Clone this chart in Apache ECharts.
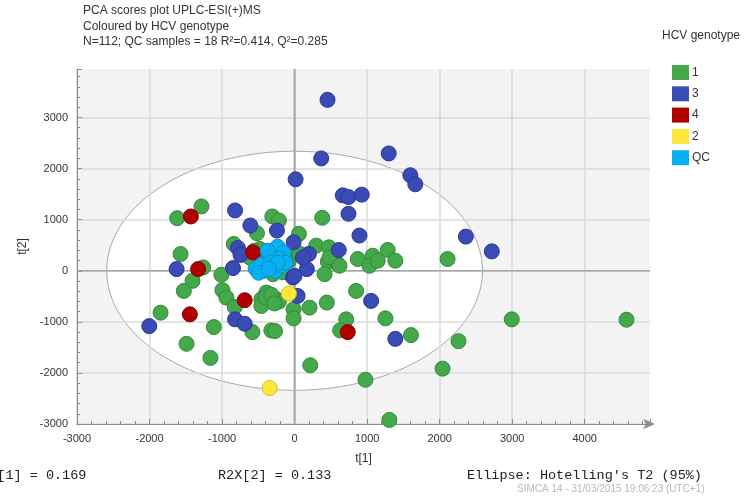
<!DOCTYPE html>
<html>
<head>
<meta charset="utf-8">
<script src="https://cdn.jsdelivr.net/npm/echarts@6/dist/echarts.min.js"></script>
<style>
html,body{margin:0;padding:0;background:#fff;}
#c{width:749px;height:497px;}
</style>
</head>
<body>
<div id="c"></div>
<script>
const categories = ['1', '3', '4', '2', 'QC'];
const colors = ['#45a84a', '#3a4bb5', '#b00000', '#ffe63a', '#08b0f2'];
const borders = ['#2f8a39', '#28379a', '#880000', '#d8bf1e', '#0690c8'];

const genotype1 = [[-1284,1260],[-1619,1030],[-307,1063],[-216,984],[381,1037],[-519,735],[59,722],[-1572,328],[-839,525],[298,492],[472,459],[-573,295],[-481,427],[458,177],[413,-66],[596,131],[23,328],[-78,197],[-1261,65],[-1009,-79],[-1407,-197],[-1527,-394],[-995,-380],[-940,-525],[-825,-709],[-1848,-820],[-458,-558],[-390,-427],[-252,-558],[-458,-689],[-14,-755],[-14,-932],[206,-722],[445,-623],[-1114,-1102],[-582,-1201],[-321,-1168],[-270,-1180],[-1490,-1430],[-1160,-1706],[216,-1850],[481,262],[619,98],[871,230],[1077,295],[1032,98],[1146,197],[1284,407],[1389,197],[2109,230],[848,-394],[711,-951],[628,-1168],[1252,-932],[1605,-1260],[2260,-1378],[2994,-951],[2040,-1916],[977,-2133],[1307,-2920],[4576,-958],[-114,197],[-298,-66],[-216,-604],[-619,262],[-400,-520],[-320,-470],[-560,390],[-160,-30],[69,335],[-280,-640]];
const genotype3 = [[454,3346],[367,2199],[14,1791],[1298,2297],[1596,1870],[1664,1693],[665,1476],[743,1443],[926,1490],[743,1116],[894,689],[2361,669],[2719,380],[609,407],[1055,-590],[1389,-1333],[-821,1181],[-610,886],[-243,787],[-14,557],[-781,445],[-745,310],[197,329],[-1627,33],[-849,53],[-23,-132],[169,33],[41,-492],[-2004,-1083],[-821,-951],[-688,-1037],[114,262],[0,-98]];
const genotype4 = [[-1430,1063],[-1330,33],[-1444,-853],[-688,-577],[-573,360],[733,-1201]];
const genotype2 = [[-78,-446],[-344,-2297]];
const qcSamples = [[-234,471],[-152,353],[-344,275],[-400,157],[-303,59],[-537,39],[-427,0],[-262,0],[-193,98],[-276,235],[-372,392],[-455,118],[-207,235],[-124,157],[-331,157],[-496,-39],[-234,157],[-358,39]];
const seriesData = [genotype1, genotype3, genotype4, genotype2, qcSamples];

const xTicks = {min: -3000, max: 4900, interval: 1000};
const yTicks = {min: -3000, max: 3950, interval: 1000};
const ellipseCenter = [0, 0];
const ellipseRadii = [2590, 2340];

const titleLines = ['PCA scores plot UPLC-ESI(+)MS', 'Coloured by HCV genotype', 'N=112; QC samples = 18 R\u00B2=0.414, Q\u00B2=0.285'];
const footTexts = ['R2X[1] = 0.169', 'R2X[2] = 0.133', "Ellipse: Hotelling's T2 (95%)"];
const stampText = 'SIMCA 14 - 31/03/2015 19:06:23 (UTC+1)';

const chart = echarts.init(document.getElementById('c'), null, {renderer: 'canvas'});

const scatterSeries = categories.map((name, i) => ({
  name: name,
  type: 'scatter',
  data: seriesData[i],
  symbol: 'circle',
  symbolSize: 15,
  z: 5 + i,
  itemStyle: {color: colors[i], borderColor: borders[i], borderWidth: 1, opacity: 1},
  emphasis: {disabled: true}
}));

const plainLabel = function (v) { return String(v); };

const option = {
  animation: false,
  backgroundColor: '#ffffff',
  textStyle: {fontFamily: 'Liberation Sans'},
  grid: {left: 77, top: 69, width: 573, height: 355, show: true, backgroundColor: '#f3f3f3', borderWidth: 0},
  xAxis: {
    type: 'value', min: xTicks.min, max: xTicks.max, interval: xTicks.interval, z: 3,
    name: 't[1]', nameLocation: 'middle', nameGap: 29,
    nameTextStyle: {color: '#333', fontSize: 12, fontFamily: 'Liberation Sans'},
    axisLine: {show: true, onZero: false, lineStyle: {color: '#8c8c8c', width: 1}, symbol: ['none', 'arrow'], symbolSize: [8, 12], symbolOffset: [0, 5]},
    axisTick: {show: true, inside: true, length: 5, lineStyle: {color: '#8c8c8c'}},
    minorTick: {show: true, splitNumber: 5, length: 3, lineStyle: {color: '#8c8c8c'}},
    axisLabel: {color: '#333', fontSize: 11, margin: 9, showMaxLabel: false, formatter: plainLabel, fontFamily: 'Liberation Sans'},
    splitLine: {show: true, showMaxLine: false, lineStyle: {color: '#dadada', width: 1.5}}
  },
  yAxis: {
    type: 'value', min: yTicks.min, max: yTicks.max, interval: yTicks.interval, z: 3,
    name: 't[2]', nameLocation: 'middle', nameGap: 37,
    nameTextStyle: {color: '#333', fontSize: 12, fontFamily: 'Liberation Sans'},
    axisLine: {show: true, onZero: false, lineStyle: {color: '#8c8c8c', width: 1}},
    axisTick: {show: true, inside: true, length: 5, lineStyle: {color: '#8c8c8c'}},
    minorTick: {show: true, splitNumber: 5, length: 3, lineStyle: {color: '#8c8c8c'}},
    axisLabel: {color: '#333', fontSize: 11, margin: 9, showMaxLabel: false, formatter: plainLabel, fontFamily: 'Liberation Sans'},
    splitLine: {show: true, showMaxLine: false, lineStyle: {color: '#dadada', width: 1.5}}
  },
  legend: {
    data: categories,
    orient: 'vertical', left: 667, top: 60,
    itemWidth: 17, itemHeight: 15, itemGap: 6.3,
    icon: 'rect',
    itemStyle: {borderWidth: 0},
    textStyle: {color: '#333', fontSize: 12, fontFamily: 'Liberation Sans', padding: [0, 0, 0, -2]},
    selectedMode: false
  },
  graphic: [
    {type: 'text', left: 83, top: 5, style: {text: titleLines[0], fill: '#333', font: '12px "Liberation Sans"'}},
    {type: 'text', left: 83, top: 21, style: {text: titleLines[1], fill: '#333', font: '12px "Liberation Sans"'}},
    {type: 'text', left: 83, top: 36, style: {text: titleLines[2], fill: '#333', font: '12px "Liberation Sans"'}},
    {type: 'text', left: 662, top: 30, style: {text: 'HCV genotype', fill: '#333', font: '12px "Liberation Sans"'}},
    {type: 'text', x: -27, y: 468, style: {text: footTexts[0], fill: '#222', font: '13.5px "Liberation Mono"'}},
    {type: 'text', x: 218, y: 468, style: {text: footTexts[1], fill: '#222', font: '13.5px "Liberation Mono"'}},
    {type: 'text', x: 467, y: 468, style: {text: footTexts[2], fill: '#222', font: '13.5px "Liberation Mono"'}},
    {type: 'text', x: 517, y: 484, style: {text: stampText, fill: '#b8b8b8', font: '10px "Liberation Sans Narrow", "Liberation Sans"'}}
  ],
  series: [
    {
      type: 'custom', z: 1, silent: true,
      data: [ellipseCenter],
      renderItem: function (params, api) {
        const pts = [];
        for (let i = 0; i <= 180; i++) {
          const a = i / 180 * Math.PI * 2;
          pts.push(api.coord([ellipseCenter[0] + ellipseRadii[0] * Math.cos(a), ellipseCenter[1] + ellipseRadii[1] * Math.sin(a)]));
        }
        return {type: 'polygon', shape: {points: pts}, style: {fill: '#ffffff', stroke: '#a8a8a8', lineWidth: 1}};
      }
    },
    {
      type: 'custom', z: 4, silent: true,
      data: [ellipseCenter],
      renderItem: function (params, api) {
        const top = api.coord([ellipseCenter[0], yTicks.max]);
        const bot = api.coord([ellipseCenter[0], yTicks.min]);
        const l = api.coord([xTicks.min, ellipseCenter[1]]);
        const r = api.coord([xTicks.max, ellipseCenter[1]]);
        return {type: 'group', children: [
          {type: 'line', shape: {x1: top[0], y1: top[1], x2: bot[0], y2: bot[1]}, style: {stroke: '#a4a4a4', lineWidth: 2}},
          {type: 'line', shape: {x1: l[0], y1: l[1], x2: r[0], y2: r[1]}, style: {stroke: '#a4a4a4', lineWidth: 1.5}}
        ]};
      }
    }
  ].concat(scatterSeries)
};
chart.setOption(option);
</script>
</body>
</html>
